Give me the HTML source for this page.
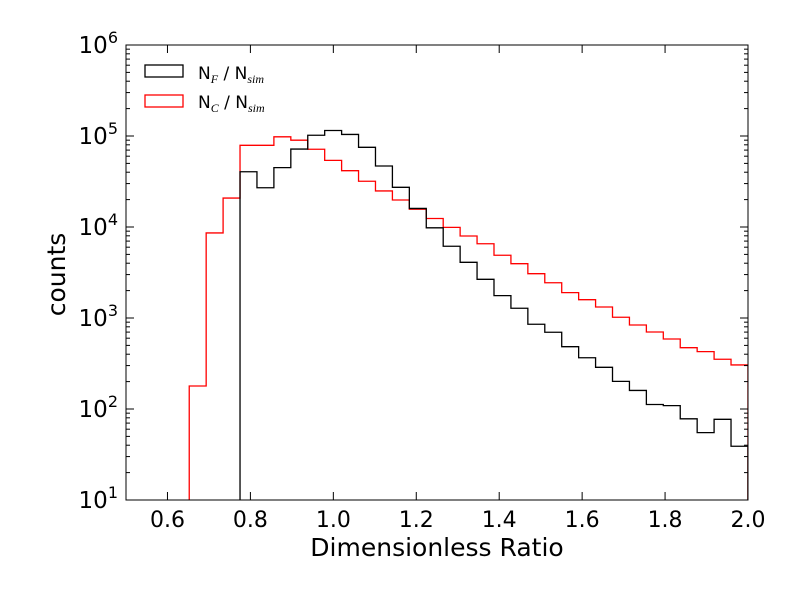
<!DOCTYPE html>
<html><head><meta charset="utf-8"><style>
body{margin:0;background:#fff}
svg text{font-family:"DejaVu Sans","Liberation Sans",sans-serif}
</style></head><body>
<svg id="chart" width="800" height="600" xmlns="http://www.w3.org/2000/svg"></svg>
<script>
const binStart = 0.6525;
const binWidth = 0.04083;
const redCounts = [179,8600,20800,79000,79000,98000,90000,71500,54000,41600,31800,24900,19800,15700,12400,9900,7960,6540,4890,3950,3070,2440,1900,1590,1320,1020,838,702,588,472,427,352,305];
const blackCounts = [0,0,0,40500,27000,44900,71900,102000,115000,104000,75100,46800,27300,16000,9800,6140,4090,2660,1760,1280,853,697,484,366,287,201,160,112,109,78,55,77,39];
const xTicks = [0.6,0.8,1.0,1.2,1.4,1.6,1.8,2.0];
const xTickLabels = ["0.6","0.8","1.0","1.2","1.4","1.6","1.8","2.0"];
const yExps = [1,2,3,4,5,6];

const L=126,R=748,T=45,B=500;
const xs=v=>L+(v-0.5)/(2.0-0.5)*(R-L);
const ys=v=>B-(Math.log10(v)-1)/5*(B-T);
const svg=document.getElementById('chart');
const NS='http://www.w3.org/2000/svg';
function mk(tag,attrs,parent){const e=document.createElementNS(NS,tag);for(const k in attrs)e.setAttribute(k,attrs[k]);(parent||svg).appendChild(e);return e;}

const clip=mk('clipPath',{id:'pc'});mk('rect',{x:L,y:T,width:R-L,height:B-T},clip);

function stepPath(counts){
  let d='';let started=false;
  counts.forEach((c,i)=>{
    const x0=xs(binStart+i*binWidth),x1=xs(binStart+(i+1)*binWidth);
    if(c<=0){return;}
    const y=ys(c);
    if(!started){d+=`M${x0},${B+5}L${x0},${y}`;started=true;}
    else d+=`L${x0},${y}`;
    d+=`L${x1},${y}`;
    if(i===counts.length-1)d+=`L${x1},${B+5}`;
  });
  return d;
}
const red=mk('path',{d:stepPath(redCounts),fill:'none',stroke:'#ff0000','stroke-width':1.3,'clip-path':'url(#pc)'});


const blk=mk('path',{d:stepPath(blackCounts),fill:'none',stroke:'#000','stroke-width':1.3,'clip-path':'url(#pc)'});



const fr=mk('rect',{x:L,y:T,width:R-L,height:B-T,fill:'none',stroke:'#000','stroke-width':1});



xTicks.forEach((v,i)=>{
  const x=xs(v);
  mk('line',{x1:x,y1:B,x2:x,y2:B-8,stroke:'#000'});
  mk('line',{x1:x,y1:T,x2:x,y2:T+8,stroke:'#000'});
  const t=mk('text',{x:x,y:B+27,'text-anchor':'middle','font-size':22});
  t.textContent=xTickLabels[i];
  
  
});
yExps.forEach(e=>{
  const y=ys(Math.pow(10,e));
  mk('line',{x1:L,y1:y,x2:L+8,y2:y,stroke:'#000'});
  mk('line',{x1:R,y1:y,x2:R-8,y2:y,stroke:'#000'});
  const t=mk('text',{x:L-8,y:y+8,'text-anchor':'end','font-size':23});
  t.innerHTML=`10<tspan dy="-10" font-size="16">${e}</tspan>`;
  
  
  if(e<6)for(let m=2;m<10;m++){
    const ym=ys(m*Math.pow(10,e));
    mk('line',{x1:L,y1:ym,x2:L+4,y2:ym,stroke:'#000'});
    mk('line',{x1:R,y1:ym,x2:R-4,y2:ym,stroke:'#000'});
  }
});
const xl=mk('text',{x:437,y:556,'text-anchor':'middle','font-size':25});
xl.textContent='Dimensionless Ratio';


const yl=mk('text',{x:65,y:(T+B)/2+2,'text-anchor':'middle','font-size':25,transform:`rotate(-90 65 ${(T+B)/2+2})`});
yl.textContent='counts';



const lg=mk('g',{});


mk('rect',{x:145,y:65,width:38,height:12,fill:'none',stroke:'#000','stroke-width':1.3},lg);
mk('rect',{x:145,y:95,width:38,height:12,fill:'none',stroke:'#ff0000','stroke-width':1.3},lg);
const l1=mk('text',{x:198,y:79,'font-size':17},lg);
l1.innerHTML='N<tspan dy="4" font-size="12" font-style="italic" font-family="Liberation Serif">F</tspan><tspan dy="-4"> / N</tspan><tspan dy="4" font-size="12" font-style="italic" font-family="Liberation Serif">sim</tspan>';
const l2=mk('text',{x:198,y:108,'font-size':17},lg);
l2.innerHTML='N<tspan dy="4" font-size="12" font-style="italic" font-family="Liberation Serif">C</tspan><tspan dy="-4"> / N</tspan><tspan dy="4" font-size="12" font-style="italic" font-family="Liberation Serif">sim</tspan>';
</script>
</body></html>
